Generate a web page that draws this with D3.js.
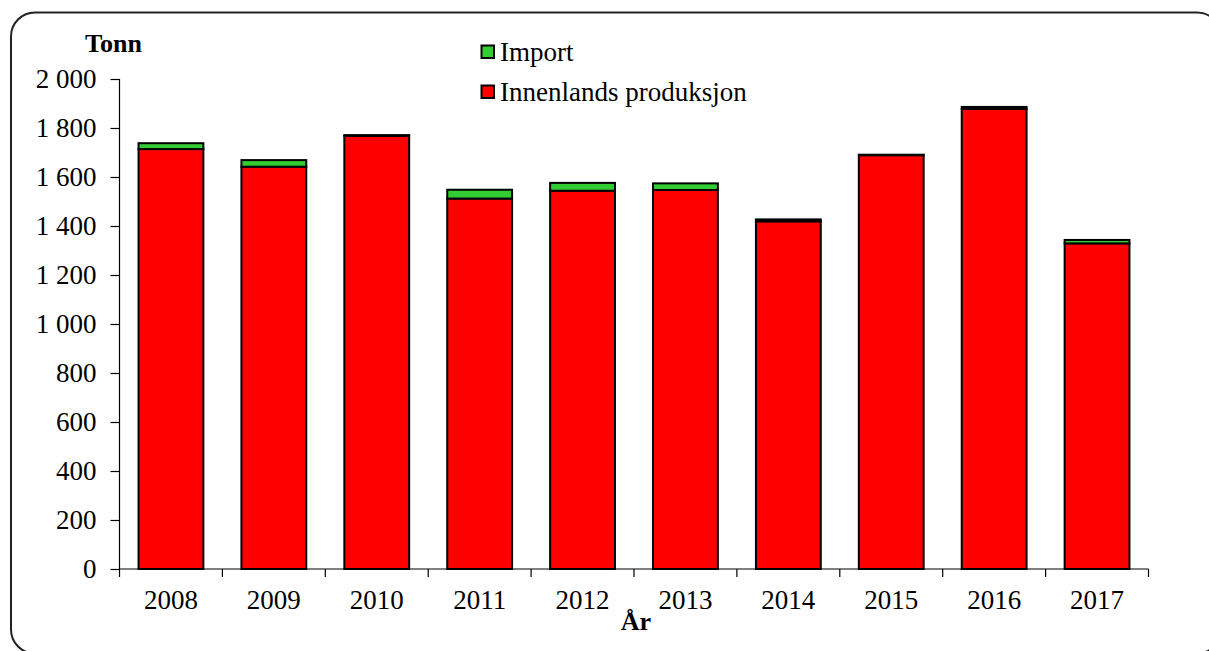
<!DOCTYPE html>
<html><head><meta charset="utf-8">
<script src="https://cdn.jsdelivr.net/npm/d3@7"></script>
<style>
html,body{margin:0;padding:0;background:#fff;overflow:hidden}
svg{display:block}
text{font-family:"Liberation Serif","Times New Roman",serif;fill:#000}
</style></head>
<body>
<script>
const years = ["2008","2009","2010","2011","2012","2013","2014","2015","2016","2017"];
const innenlands = [1714, 1642, 1768, 1512, 1544, 1547, 1419, 1689, 1878, 1329];
const importVals = [24, 27, 3, 36, 32, 27, 8, 2, 8, 14];
const yTicks = [0,200,400,600,800,1000,1200,1400,1600,1800,2000];
const seriesNames = ["Import","Innenlands produksjon"];
const seriesColors = ["#33CC33","#FF0000"];

(function(){
const W = 1209, H = 651;
const FS = 27;
const svg = d3.select("body").append("svg").attr("width", W).attr("height", H);

svg.append("rect").attr("x",11).attr("y",12.5).attr("width",1210).attr("height",641)
  .attr("rx",24).attr("fill","#fff").attr("stroke","#222").attr("stroke-width",2);

const pL = 119.5, pR = 1148.5, pT = 79, pB = 569;
const x = d3.scaleBand().domain(years).range([pL,pR]).paddingInner(0.37).paddingOuter(0.185);
const y = d3.scaleLinear().domain([0,2000]).range([pB,pT]);
const fmt = d3.format(",");
const fmtSp = v => fmt(v).replace(/,/g," ");

const data = years.map((yr,i)=>({yr, inn:innenlands[i], imp:importVals[i]}));

const g = svg.append("g");
g.selectAll("rect.inn").data(data).join("rect").attr("class","inn")
  .attr("x",d=>x(d.yr)).attr("width",x.bandwidth())
  .attr("y",d=>y(d.inn)).attr("height",d=>y(0)-y(d.inn))
  .attr("fill",seriesColors[1]).attr("stroke","#000").attr("stroke-width",2);
g.selectAll("rect.imp").data(data).join("rect").attr("class","imp")
  .attr("x",d=>x(d.yr)).attr("width",x.bandwidth())
  .attr("y",d=>y(d.inn+d.imp)).attr("height",d=>y(d.inn)-y(d.inn+d.imp))
  .attr("fill",seriesColors[0]).attr("stroke","#000").attr("stroke-width",2);

const yAxis = d3.axisLeft(y).tickValues(yTicks).tickSize(9).tickPadding(14).tickFormat(fmtSp);
const ya = svg.append("g").attr("transform",`translate(${pL},0)`).call(yAxis);
ya.select(".domain").attr("d",`M0,${pT}V${pB}`).attr("stroke","#000").attr("stroke-width",1.2);
ya.selectAll(".tick line").attr("stroke","#000").attr("stroke-width",1.2);
ya.selectAll(".tick text").attr("font-size",FS).attr("font-family","Liberation Serif, serif").attr("fill","#000");

const xAxis = d3.axisBottom(x).tickSize(0).tickPadding(21);
const xa = svg.append("g").attr("transform",`translate(0,${pB})`).call(xAxis);
xa.select(".domain").attr("d",`M${pL},0H${pR}`).attr("stroke","#000").attr("stroke-width",1.2);
xa.selectAll(".tick text").attr("font-size",FS).attr("font-family","Liberation Serif, serif").attr("fill","#000");
const bounds = [pL].concat(years.map(d=>x(d)+x.bandwidth()+x.step()*x.paddingInner()/2));
bounds[bounds.length-1] = pR;
xa.selectAll("line.bt").data(bounds).join("line").attr("class","bt")
  .attr("x1",d=>d).attr("x2",d=>d).attr("y1",0).attr("y2",8)
  .attr("stroke","#000").attr("stroke-width",1.2);

svg.append("text").attr("x",85).attr("y",52).attr("font-size",26).attr("font-weight","bold").text("Tonn");
svg.append("text").attr("x",(pL+pR)/2+2).attr("y",630).attr("text-anchor","middle")
  .attr("font-size",26).attr("font-weight","bold").text("År");

const leg = svg.append("g");
const legY = [45, 85];
seriesNames.forEach((n,i)=>{
  leg.append("rect").attr("x",481.5).attr("y",legY[i]+0.5).attr("width",12.5).attr("height",12.5)
    .attr("fill",seriesColors[i]).attr("stroke","#000").attr("stroke-width",2);
  leg.append("text").attr("x",500).attr("y",legY[i]+15.5).attr("font-size",FS).text(n);
});
})();
</script>
</body></html>
